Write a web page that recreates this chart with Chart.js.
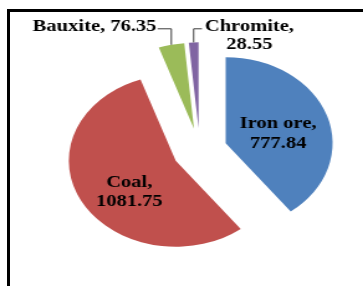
<!DOCTYPE html>
<html><head><meta charset="utf-8">
<script src="https://cdn.jsdelivr.net/npm/chart.js@4/dist/chart.umd.min.js"></script>
<style>
html,body{margin:0;padding:0;background:#fff;overflow:hidden;width:363px;height:286px}
#frame{position:absolute;left:7px;top:9px;width:400px;height:320px;border-left:3px solid #000;border-top:3px solid #000;box-sizing:border-box}
#wrap{position:absolute;left:0;top:0;width:292px;height:286px;transform:scaleX(1.2432);transform-origin:0 0}
</style></head><body>
<div id="frame"></div>
<div id="wrap"><canvas id="c" width="292" height="286"></canvas></div>
<script>
// ---- data ----
const categories = ['Iron ore', 'Coal', 'Bauxite', 'Chromite'];
const values = [777.84, 1081.75, 76.35, 28.55];
const valueLabels = ['777.84', '1081.75', '76.35', '28.55'];
const colors = ['#4F81BD', '#C0504D', '#9BBB59', '#8064A2'];

// ---- style ----
const EXPLODE = 22;
const FONT = 'bold 16.5px "Liberation Serif", "Times New Roman", serif';
const inside = {0: {frac: 0.506, shift: 4.5}, 1: {frac: 0.56, shift: -10.8}};
const LH = 19.5;

const explodePlugin = {
  id: 'explode',
  afterDatasetUpdate(chart, args) {
    args.meta.data.forEach(arc => {
      const mid = (arc.startAngle + arc.endAngle) / 2;
      arc.x += Math.cos(mid) * EXPLODE;
      arc.y += Math.sin(mid) * EXPLODE;
    });
  }
};

const labelPlugin = {
  id: 'sliceLabels',
  afterDatasetsDraw(chart) {
    const ctx = chart.ctx;
    const meta = chart.getDatasetMeta(0);
    const ca = chart.chartArea;
    const cyChart = (ca.top + ca.bottom) / 2;
    ctx.save();
    ctx.font = FONT;
    ctx.fillStyle = '#000';
    ctx.textBaseline = 'alphabetic';
    ctx.strokeStyle = '#3a3a3a';
    ctx.lineWidth = 1;
    meta.data.forEach((arc, i) => {
      const {x, y, startAngle, endAngle, outerRadius} = arc;
      const mid = (startAngle + endAngle) / 2;
      if (inside[i]) {
        const p = inside[i];
        const a = mid + p.shift * Math.PI / 180;
        const r = p.frac * outerRadius;
        const cx = x + Math.cos(a) * r, cy = y + Math.sin(a) * r;
        ctx.textAlign = 'center';
        ctx.fillText(categories[i] + ',', cx, cy - LH / 2 + 5.5);
        ctx.fillText(valueLabels[i], cx, cy + LH / 2 + 5.5);
      } else {
        const px = x + Math.cos(mid) * outerRadius;
        const py = y + Math.sin(mid) * outerRadius;
        const ey = cyChart - outerRadius - EXPLODE - 13.5;
        ctx.beginPath();
        if (i === 2) {
          ctx.moveTo(px, py); ctx.lineTo(px, ey); ctx.lineTo(px - 11, ey);
          ctx.stroke();
          ctx.textAlign = 'right';
          ctx.fillText(categories[i] + ', ' + valueLabels[i], px - 12, ey + 2);
        } else {
          ctx.moveTo(px, py); ctx.lineTo(px, ey); ctx.lineTo(px + 6.7, ey);
          ctx.stroke();
          const l1 = categories[i] + ',', l2 = valueLabels[i];
          const w = Math.max(ctx.measureText(l1).width, ctx.measureText(l2).width);
          const cx = px + 9 + w / 2;
          ctx.textAlign = 'center';
          ctx.fillText(l1, cx, ey + 2);
          ctx.fillText(l2, cx, ey + 20);
        }
      }
    });
    ctx.restore();
  }
};

new Chart(document.getElementById('c'), {
  type: 'pie',
  data: {
    labels: categories,
    datasets: [{
      data: values,
      backgroundColor: colors,
      borderWidth: 0,
      radius: 86
    }]
  },
  options: {
    responsive: false,
    animation: false,
    layout: {padding: {left: 40, right: 10.6, top: 20, bottom: 5.4}},
    plugins: {legend: {display: false}, tooltip: {enabled: false}}
  },
  plugins: [explodePlugin, labelPlugin]
});
</script>
</body></html>
